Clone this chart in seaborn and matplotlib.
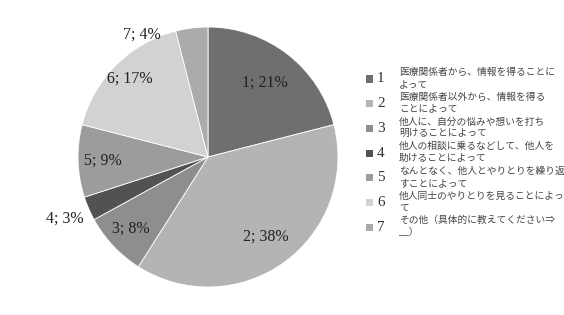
import numpy as np
import matplotlib
matplotlib.use("Agg")
import matplotlib.pyplot as plt
import seaborn as sns

categories = ["1", "2", "3", "4", "5", "6", "7"]
values = [21, 38, 8, 3, 9, 17, 4]
descriptions = [
    "医療関係者から、情報を得ることに\nよって",
    "医療関係者以外から、情報を得る\nことによって",
    "他人に、自分の悩みや想いを打ち\n明けることによって",
    "他人の相談に乗るなどして、他人を\n助けることによって",
    "なんとなく、他人とやりとりを繰り返\nすことによって",
    "他人同士のやりとりを見ることによっ\nて",
    "その他（具体的に教えてください⇒\n＿）",
]
colors = ["#6f6f6f", "#b4b4b4", "#8e8e8e", "#525252", "#9c9c9c", "#d2d2d2", "#ababab"]

sns.set_theme(style="white")
plt.rcParams["font.family"] = ["Liberation Serif", "DejaVu Serif"]
JP = ["Noto Sans CJK JP", "DejaVu Sans"]

W, H = 564, 315
fig = plt.figure(figsize=(W / 100, H / 100), dpi=100)
fig.patch.set_facecolor("white")
cx, cy, r = 208, 157, 130
ax = fig.add_axes([(cx - r) / W, (H - cy - r) / H, 2 * r / W, 2 * r / H])
wedges, _ = ax.pie(values, colors=colors, startangle=90, counterclock=False,
                   wedgeprops=dict(edgecolor="white", linewidth=0.6))
ax.set_xlim(-1, 1)
ax.set_ylim(-1, 1)
ax.set_aspect("equal")
ax.axis("off")

# label placement (distance, angle offset in degrees)
place = [(0.72, 0), (0.76, 0), (0.81, 0), (1.2, 0), (0.81, 0), (0.85, 0), (1.07, 21)]
for w, cat, v, (d, off) in zip(wedges, categories, values, place):
    ang = np.deg2rad((w.theta1 + w.theta2) / 2 + off)
    ax.text(d * np.cos(ang), d * np.sin(ang), f"{cat}; {v}%", ha="center", va="center",
            fontsize=11.5, color="#222222", clip_on=False)

# legend
y0, step = 79, 24.7
for i, (cat, desc, col) in enumerate(zip(categories, descriptions, colors)):
    y = y0 + i * step
    fig.patches.append(plt.Rectangle((366 / W, 1 - (y + 3.5) / H), 7 / W, 7 / H,
                                     transform=fig.transFigure, facecolor=col,
                                     edgecolor="none"))
    fig.text(377 / W, 1 - y / H, cat, fontsize=11, color="#333333", ha="left", va="center")
    fig.text(399 / W, 1 - (y - 1) / H, desc, fontsize=7, color="#444444", ha="left",
             va="center", linespacing=1.25, family=JP)

fig.savefig("out.png", dpi=100, facecolor="white")
